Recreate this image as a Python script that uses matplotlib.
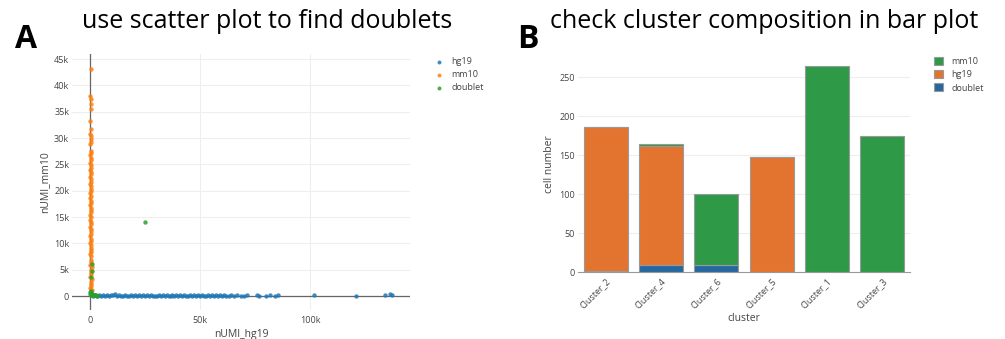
import matplotlib.pyplot as plt
from matplotlib.ticker import FuncFormatter

# Panel A data: nUMI per cell
mm10_x = [300, 150, 400, 250, 350, 200, 450, 100, 300, 500,
          250, 150, 350, 450, 200, 300, 550, 100, 400, 250,
          150, 500, 300, 200, 450, 350, 100, 250, 400, 550,
          150, 300, 200, 450, 350, 100, 250, 500, 400, 150,
          300, 200, 550, 350, 100, 450, 250, 400, 150, 300,
          500, 200, 350, 600, 250, 450, 150, 300, 650, 400,
          200, 700, 350, 250, 500, 150, 800, 300, 450, 600,
          200, 900, 400, 700]
mm10_y = [43100, 38000, 37400, 36400, 35500, 33200, 31700, 30700, 30400, 29800,
          29300, 28900, 27500, 27100, 26700, 26200, 25800, 25300, 24900, 24400,
          24000, 23500, 23100, 22600, 22200, 21700, 21300, 20800, 20400, 19900,
          19500, 19000, 18600, 18100, 17700, 17200, 16800, 16300, 15900, 15400,
          15000, 14500, 14100, 13600, 13200, 12700, 12300, 11800, 11400, 10900,
          10500, 10000, 9600, 9200, 8800, 8400, 8000, 7600, 6800, 6400,
          5900, 5500, 5000, 4500, 4100, 3600, 3200, 2700, 2300, 1900,
          1500, 1100, 700, 400]
hg19_x = [600, 1500, 2400, 3300, 4200, 5100, 6000, 6900, 7800, 8700,
          9600, 10500, 11200, 12300, 13200, 14100, 15000, 15900, 16800, 17700,
          18600, 19500, 20400, 21300, 22200, 23100, 24000, 24900, 25800, 26700,
          27600, 28500, 29400, 30300, 31200, 32100, 33000, 33900, 34800, 35700,
          36600, 37500, 38400, 39300, 40200, 41100, 42000, 42900, 43800, 44700,
          45600, 46500, 47400, 48300, 49200, 50100, 51000, 51900, 52800, 53700,
          54600, 55500, 56400, 57300, 58200, 59100, 60000, 61000, 62000, 63000,
          64000, 65500, 67000, 68500, 70000, 71500, 76000, 77000, 80000, 82000,
          84000, 85500, 102000, 121000, 134000, 136500, 137500]
hg19_y = [150, 80, 200, 60, 120, 90, 180, 50, 140, 70,
          110, 160, 380, 60, 130, 90, 40, 170, 100, 60,
          140, 80, 200, 50, 120, 90, 160, 70, 110, 40,
          150, 80, 100, 60, 190, 70, 120, 50, 140, 90,
          60, 170, 80, 110, 50, 130, 90, 160, 70, 100,
          140, 60, 180, 80, 110, 50, 150, 90, 70, 120,
          60, 130, 90, 170, 50, 110, 80, 140, 60, 100,
          120, 70, 150, 60, 90, 110, 130, 80, 100, 120,
          90, 140, 250, 100, 280, 300, 220]
doublet_x = [25000, 900, 700, 400, 300, 200, 500, 800, 1200, 1600, 2100, 2600, 3000, 100, 600]
doublet_y = [14100, 6000, 4700, 3600, 900, 700, 500, 350, 250, 200, 150, 120, 100, 300, 150]

# Panel B data: cell counts per cluster
clusters = ['Cluster_2', 'Cluster_4', 'Cluster_6', 'Cluster_5', 'Cluster_1', 'Cluster_3']
doublet_n = [1, 9, 9, 0, 0, 0]
hg19_n = [185, 153, 0, 147, 0, 0]
mm10_n = [0, 2, 91, 0, 265, 175]

plt.rcParams['font.family'] = ['Open Sans', 'DejaVu Sans']
tick_col = '#444444'
grid_col = '#eeeeee'

fig = plt.figure(figsize=(10.05, 3.39), dpi=100)

# ---- A: scatter
axA = fig.add_axes([72 / 1005, 1 - 310 / 339, 338 / 1005, 256 / 339])
axA.scatter(hg19_x, hg19_y, s=10, color='#1f77b4', alpha=0.85, linewidths=0, label='hg19', zorder=3)
axA.scatter(mm10_x, mm10_y, s=10, color='#ff7f0e', alpha=0.85, linewidths=0, label='mm10', zorder=3)
axA.scatter(doublet_x, doublet_y, s=10, color='#2ca02c', alpha=0.85, linewidths=0, label='doublet', zorder=4)
axA.axhline(0, color='#666666', lw=0.9, zorder=2)
axA.axvline(0, color='#666666', lw=0.9, zorder=2)
axA.set_xlim(-8200, 145500)
axA.set_ylim(-2650, 45950)
axA.set_xticks([0, 50000, 100000])
axA.set_yticks(range(0, 45001, 5000))
kfmt = FuncFormatter(lambda v, p: '0' if v == 0 else f'{int(v / 1000)}k')
axA.xaxis.set_major_formatter(kfmt)
axA.yaxis.set_major_formatter(kfmt)
axA.grid(True, color=grid_col, lw=0.8, zorder=0)
for s in axA.spines.values():
    s.set_visible(False)
axA.tick_params(length=0, labelsize=6.5, labelcolor=tick_col, pad=2)
axA.tick_params(axis='x', pad=4)
axA.set_xlabel('nUMI_hg19', fontsize=7.5, color=tick_col, labelpad=3)
axA.set_ylabel('nUMI_mm10', fontsize=7.5, color=tick_col, labelpad=3)
axA.legend(loc='upper left', bbox_to_anchor=(434 / 1005, 1 - 57 / 339), bbox_transform=fig.transFigure,
           frameon=False, fontsize=6.5, handlelength=1.0, handletextpad=0.9, labelspacing=0.45,
           borderpad=0, borderaxespad=0, markerscale=0.9, labelcolor=tick_col)

# ---- B: stacked bars
axB = fig.add_axes([578 / 1005, 1 - 272 / 339, 332 / 1005, 215 / 339])
pos = range(len(clusters))
bottom2 = [d + h for d, h in zip(doublet_n, hg19_n)]
ec = '#999999'
b_d = axB.bar(pos, doublet_n, width=0.8, color='#2568a0', edgecolor=ec, lw=0.8, label='doublet', zorder=3)
b_h = axB.bar(pos, hg19_n, width=0.8, bottom=doublet_n, color='#e3742f', edgecolor=ec, lw=0.8, label='hg19', zorder=3)
b_m = axB.bar(pos, mm10_n, width=0.8, bottom=bottom2, color='#2e9a48', edgecolor=ec, lw=0.8, label='mm10', zorder=3)
axB.set_xlim(-0.5, len(clusters) - 0.5)
axB.set_ylim(0, 276)
axB.set_yticks(range(0, 251, 50))
axB.set_xticks(list(pos))
axB.set_xticklabels(clusters, rotation=45, ha='right', rotation_mode='anchor')
axB.grid(True, axis='y', color=grid_col, lw=0.8, zorder=0)
for s in ['top', 'right', 'left']:
    axB.spines[s].set_visible(False)
axB.spines['bottom'].set_color('#999999')
axB.tick_params(length=0, labelsize=6.5, labelcolor=tick_col, pad=2)
axB.tick_params(axis='x', pad=3)
axB.set_xlabel('cluster', fontsize=7.5, color=tick_col, labelpad=2)
axB.set_ylabel('cell number', fontsize=7.5, color=tick_col, labelpad=3)
axB.legend(handles=[b_m, b_h, b_d], loc='upper left', bbox_to_anchor=(934 / 1005, 1 - 57 / 339),
           bbox_transform=fig.transFigure, frameon=False, fontsize=6.5, handlelength=1.0, handleheight=1.0,
           handletextpad=0.9, labelspacing=0.45, borderpad=0, borderaxespad=0, labelcolor=tick_col)

# ---- panel titles
fig.text(15 / 1005, 1 - 48 / 339, 'A', fontsize=23, fontweight='bold', va='baseline')
fig.text(517 / 1005, 1 - 48 / 339, 'B', fontsize=23, fontweight='bold', va='baseline')
fig.text(82 / 1005, 1 - 28 / 339, 'use scatter plot to find doublets', fontsize=18, va='baseline')
fig.text(550 / 1005, 1 - 28 / 339, 'check cluster composition in bar plot', fontsize=18, va='baseline')

fig.savefig('out.png', dpi=100)
